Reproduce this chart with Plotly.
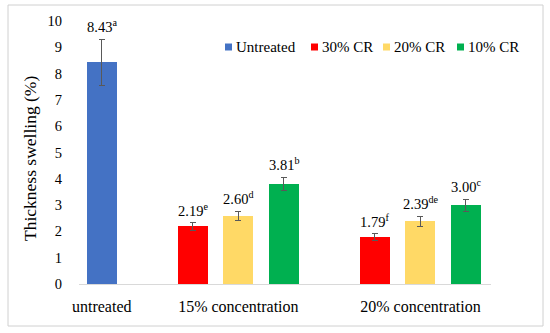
import plotly.graph_objects as go

categories = ["untreated", "15% concentration", "20% concentration"]
series_names = ["Untreated", "30% CR", "20% CR", "10% CR"]
colors = ["#4472C4", "#FF0000", "#FFD966", "#00B050"]

# values per series over the categories (None = no bar)
values = {
    "Untreated": [8.43, None, None],
    "30% CR": [None, 2.19, 1.79],
    "20% CR": [None, 2.60, 2.39],
    "10% CR": [None, 3.81, 3.00],
}
errors = {
    "Untreated": [0.88, None, None],
    "30% CR": [None, 0.14, 0.12],
    "20% CR": [None, 0.17, 0.19],
    "10% CR": [None, 0.25, 0.23],
}
letters = {
    "Untreated": ["a", None, None],
    "30% CR": [None, "e", "f"],
    "20% CR": [None, "d", "de"],
    "10% CR": [None, "b", "c"],
}

# slot layout: untreated group has 1 bar, other groups have 3 bars, one empty slot between groups
group_start = [0, 2, 6]
def slot(gi, si):
    if gi == 0:
        return group_start[0] + 0.5
    return group_start[gi] + (si - 1) + 0.5

tick_pos = [0.5, 3.5, 7.5]

FONT = "'Liberation Serif', serif"
L, R, T, B = 79, 59, 21, 49
PW, PH = 550 - L - R, 333 - T - B
def px(xp): return (xp - L) / PW
def py(yp): return (333 - B - yp) / PH

fig = go.Figure()
annotations = []
shapes = []
for si, name in enumerate(series_names):
    xs, ys, es = [], [], []
    for gi in range(len(categories)):
        v = values[name][gi]
        if v is None:
            continue
        x = slot(gi, si)
        xs.append(x); ys.append(v); es.append(errors[name][gi])
        annotations.append(dict(
            x=x, y=v + errors[name][gi], xref="x", yref="y",
            text=f"{v:.2f}<sup>{letters[name][gi]}</sup>",
            showarrow=False, yanchor="bottom", yshift=2,
            font=dict(family=FONT, size=14.5, color="#000"),
        ))
    fig.add_trace(go.Bar(
        x=xs, y=ys, name=name, width=0.66, showlegend=False,
        marker=dict(color=colors[si], line=dict(width=0)),
        error_y=dict(type="data", array=es, visible=True, color="#595959",
                     thickness=1, width=3),
    ))

# manual legend (Excel style: small square + label)
legend_x = [225, 311, 383, 457]
legend_y = 47
for si, name in enumerate(series_names):
    x0 = legend_x[si]
    shapes.append(dict(type="rect", xref="paper", yref="paper",
                       x0=px(x0), x1=px(x0 + 7), y0=py(legend_y + 3.5), y1=py(legend_y - 3.5),
                       fillcolor=colors[si], line=dict(width=0)))
    annotations.append(dict(x=px(x0 + 9), y=py(legend_y), xref="paper", yref="paper",
                            text=name, showarrow=False, xanchor="left", yanchor="middle",
                            font=dict(family=FONT, size=15, color="#000")))

# outer chart border
shapes.append(dict(type="rect", xref="paper", yref="paper",
                   x0=px(8), x1=px(543), y0=py(326), y1=py(5),
                   line=dict(color="#D0D0D0", width=1), fillcolor="rgba(0,0,0,0)", layer="below"))

annotations.append(dict(x=px(30), y=py(159), xref="paper", yref="paper",
                        text="Thickness swelling (%)", textangle=-90, showarrow=False,
                        xanchor="center", yanchor="middle",
                        font=dict(family=FONT, size=17.5, color="#000")))

fig.update_layout(
    width=550, height=333,
    margin=dict(l=L, r=R, t=T, b=B, autoexpand=False),
    paper_bgcolor="white", plot_bgcolor="white",
    font=dict(family=FONT, size=16, color="#000"),
    showlegend=False,
    bargap=0,
    annotations=annotations,
    shapes=shapes,
)
fig.update_xaxes(range=[0, 9.05], tickvals=tick_pos, ticktext=categories, automargin=False,
                 showline=True, linecolor="#D9D9D9", linewidth=1, showgrid=False,
                 ticks="", zeroline=False, ticklabelstandoff=8,
                 tickfont=dict(family=FONT, size=16))
fig.update_yaxes(range=[0, 10], dtick=1, showgrid=False, showline=False, zeroline=False,
                 ticks="", ticklabelstandoff=16, automargin=False,
                 tickfont=dict(family=FONT, size=14.5))

fig.write_html("out.html", config={"displayModeBar": False},
               post_script="document.body.style.margin='0';")
